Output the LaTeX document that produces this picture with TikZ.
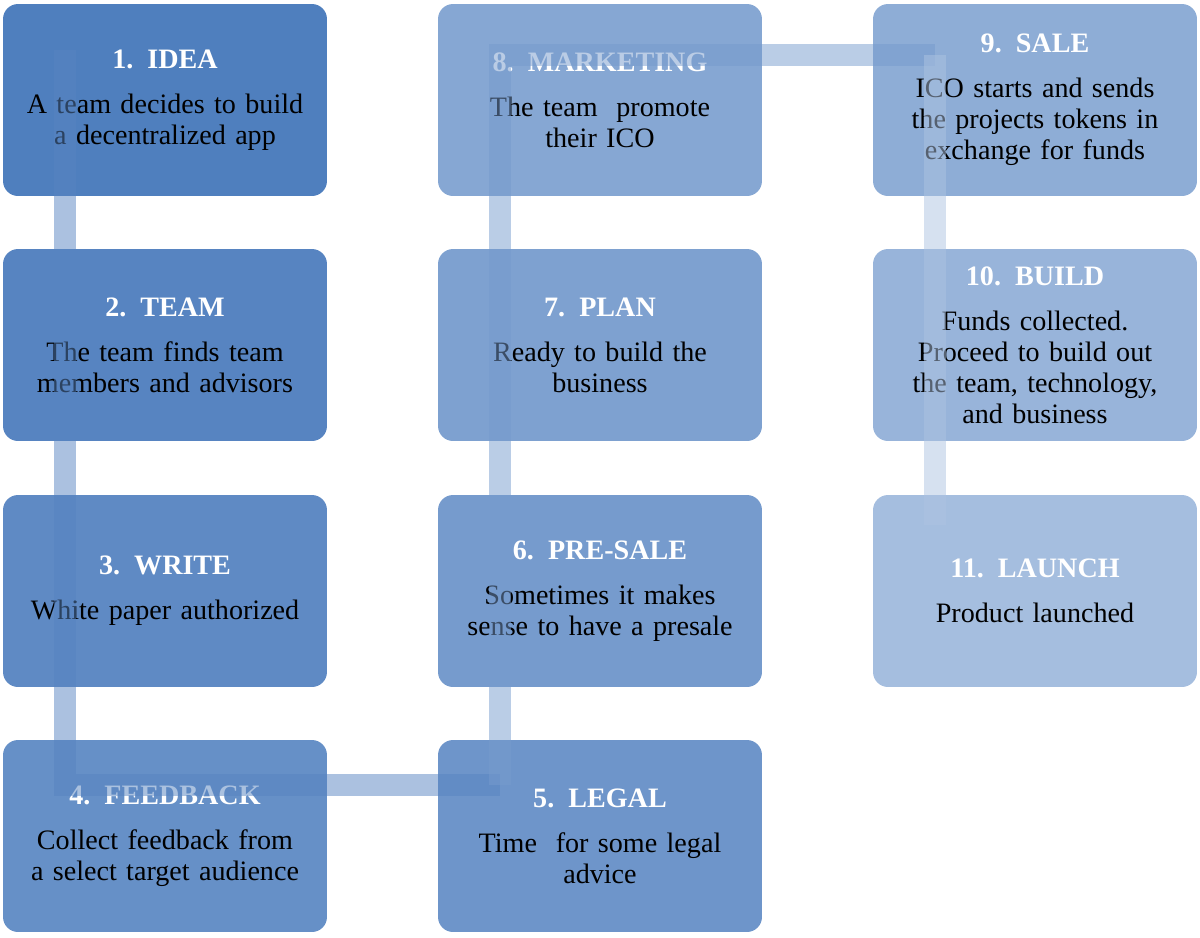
\documentclass[tikz,border=0pt]{standalone}
\usepackage{fontspec}
\setmainfont{Liberation Serif}
\usetikzlibrary{positioning}
\definecolor{bA}{HTML}{4F7FBE}
\definecolor{bB}{HTML}{5784C1}
\definecolor{bC}{HTML}{5F8AC4}
\definecolor{bD}{HTML}{6690C7}
\definecolor{bE}{HTML}{6E95CA}
\definecolor{bF}{HTML}{769BCD}
\definecolor{bG}{HTML}{7EA1D0}
\definecolor{bH}{HTML}{86A7D3}
\definecolor{bI}{HTML}{8EADD6}
\definecolor{bJ}{HTML}{98B4DA}
\definecolor{bK}{HTML}{A5BEDF}
\tikzset{
  stage/.style={draw=none, rounded corners=0.3cm, minimum width=6.48cm, minimum height=3.84cm,
    align=center, text width=6.3cm, font=\fontsize{16}{17.6}\selectfont, inner sep=0pt},
  bar/.style={line width=12.5pt, opacity=0.5}
}
\newcommand{\ttl}[1]{{\color{white}\bfseries #1}\\[8pt]}
\begin{document}
\begin{tikzpicture}[x=0.02cm,y=-0.02cm]
\useasboundingbox (0,0) rectangle (1200,937);
% first column
\node[stage, fill=bA] (idea) at (165,100) {\ttl{1. IDEA}A team decides to build\\a decentralized app};
\node[stage, fill=bB] (team) at (165,345) {\ttl{2. TEAM}The team finds team\\members and advisors};
\node[stage, fill=bC] (write) at (165,591) {\ttl{3. WRITE}White paper authorized};
\node[stage, fill=bD] (feedback) at (165,836) {\ttl{4. FEEDBACK}Collect feedback from\\a select target audience};
% second column
\node[stage, fill=bE] (legal) at (600,836) {\ttl{5. LEGAL}Time \ for some legal\\advice};
\node[stage, fill=bF] (presale) at (600,591) {\ttl{6. PRE-SALE}Sometimes it makes\\sense to have a presale};
\node[stage, fill=bG] (plan) at (600,345) {\ttl{7. PLAN}Ready to build the\\business};
\node[stage, fill=bH] (marketing) at (600,100) {\ttl{8. MARKETING}The team \ promote\\their ICO};
% third column
\node[stage, fill=bI] (sale) at (1035,100) {\ttl{9. SALE}ICO starts and sends\\the projects tokens in\\exchange for funds};
\node[stage, fill=bJ] (build) at (1035,345) {\ttl{10. BUILD}Funds collected.\\Proceed to build out\\the team, technology,\\and business};
\node[stage, fill=bK] (launch) at (1035,591) {\ttl{11. LAUNCH}Product launched};
% bends of the snake
\coordinate (c1) at (65,50);
\coordinate (c2) at (65,785);
\coordinate (c3) at (500,785);
\coordinate (c4) at (500,55);
\coordinate (c5) at (935,55);
\coordinate (c6) at (935,525);
\draw[bar, color=bB] (c1) -- (c2) -- (c3);
\draw[bar, color=bF] (c3) -- (c4) -- (c5);
\draw[bar, color=bJ!80!white] (c5) -- (c6);
\end{tikzpicture}
\end{document}
